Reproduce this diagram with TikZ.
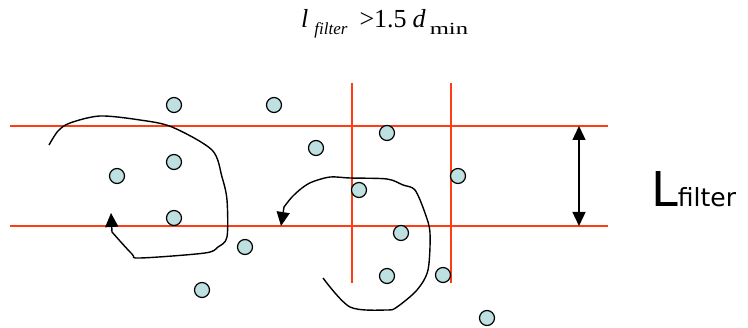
\documentclass[tikz,border=0pt]{standalone}
\usepackage{graphicx}
\usepackage{fontspec}
\newfontfamily\labelfont{DejaVu Sans}
\newfontfamily\rulefont{Liberation Serif}
\usetikzlibrary{arrows.meta}
\definecolor{filterred}{RGB}{255,60,20}
\definecolor{dotfill}{RGB}{190,224,224}
\newcommand{\lowsub}[1]{\raisebox{-7pt}{\fontsize{17}{19}\selectfont #1}}

\begin{document}
\begin{tikzpicture}[x=1pt,y=-1pt,>={Triangle[length=14pt,width=13pt]},
  dot/.style={circle, draw=black, line width=1.2pt, fill=dotfill, minimum size=15pt, inner sep=0pt},
  gridline/.style={filterred, line width=1.5pt},
  path/.style={black, line width=1.4pt}]
\useasboundingbox (0,0) rectangle (748,328);
\node[anchor=base west, inner sep=0pt] (rule) at (301,28) {\rulefont\fontsize{26}{30}\selectfont
  \textit{l}\hspace{6pt}\lowsub{\textit{filter}}\hspace{12pt}>1.5\hspace{6pt}\textit{d}\hspace{4pt}\lowsub{\scalebox{1.45}[1]{min}}};
% filter band and cells
\coordinate (h1a) at (10,126); \coordinate (h1b) at (608,126);
\coordinate (h2a) at (10,226); \coordinate (h2b) at (608,226);
\coordinate (v1a) at (352,83); \coordinate (v1b) at (352,283);
\coordinate (v2a) at (451,83); \coordinate (v2b) at (451,283);
\draw[gridline] (h1a) -- (h1b);
\draw[gridline] (h2a) -- (h2b);
\draw[gridline] (v1a) -- (v1b);
\draw[gridline] (v2a) -- (v2b);
% particle paths
\draw[path, ->] plot[smooth, tension=.5] coordinates {(49,145) (58,131) (70,123) (100,116) (140,120) (172,127) (212,150) (222,177) (227,200) (227,237) (218,247) (205,253) (140,258) (132,254) (112,232)} -- (111,213);
\draw[path, ->] plot[smooth, tension=.5] coordinates {(323,278) (350,307) (387,310) (397,307) (417,290) (428,270) (430,233) (425,213) (415,190) (403,185) (387,179) (350,178) (330,177) (312,182) (302,188) (292,197) (284,207)} -- (281,226);
% particles
\foreach \n/\px/\py in {1/174/105, 2/174/162, 3/117/176, 4/174/218, 5/245/247, 6/202/290,
  7/274/105, 8/316/148, 9/387/133, 10/458/176, 11/359/190, 12/401/233, 13/387/276, 14/443/275, 15/487/318}
  \node[dot] (p\n) at (\px,\py) {};
% band width
\coordinate (wtop) at (579,126);
\coordinate (wbot) at (579,226);
\draw[line width=1.4pt, <->] (wtop) -- (wbot);
\node[anchor=base west, inner sep=0pt] (width) at (651,207) {\labelfont\fontsize{48}{52}\selectfont L\fontsize{25}{28}\selectfont filter};
\end{tikzpicture}
\end{document}
